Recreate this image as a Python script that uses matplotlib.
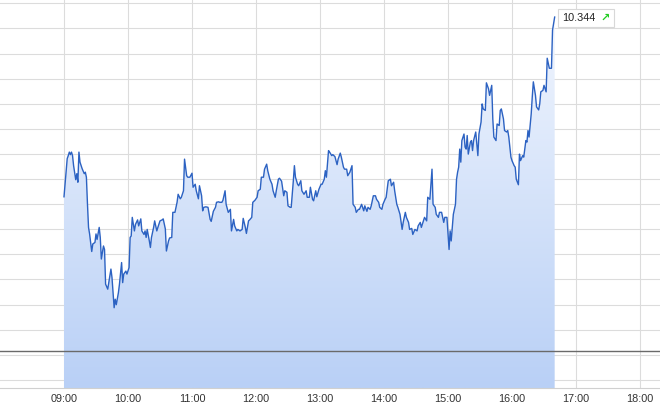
import numpy as np
import matplotlib
matplotlib.use('Agg')
import matplotlib.pyplot as plt
from matplotlib.offsetbox import TextArea, HPacker, AnnotationBbox

# intraday series: minutes after 09:00 and price
minutes = [
    0, 2, 3, 4, 5, 6, 7, 8, 9, 11, 12, 13, 14, 15, 17, 18, 19, 20, 21, 22,
    23, 24, 26, 27, 29, 30, 31, 33, 34, 35, 37, 38, 39, 41, 42, 44, 45, 47, 48, 49,
    51, 52, 54, 55, 56, 58, 59, 61, 62, 63, 64, 66, 67, 69, 70, 72, 73, 75, 76, 77,
    78, 80, 81, 82, 84, 85, 87, 88, 90, 92, 93, 95, 96, 98, 99, 101, 102, 104, 106, 107,
    109, 110, 112, 113, 115, 116, 118, 120, 121, 123, 124, 126, 127, 129, 130, 131, 133, 135, 137, 138,
    140, 142, 143, 145, 146, 148, 149, 151, 152, 154, 156, 157, 159, 160, 162, 163, 165, 167, 168, 170,
    171, 173, 174, 176, 177, 179, 181, 182, 184, 185, 187, 188, 190, 191, 193, 195, 196, 198, 199, 201,
    202, 204, 206, 207, 209, 210, 212, 213, 215, 216, 217, 219, 220, 222, 223, 225, 227, 228, 230, 231,
    233, 234, 236, 237, 239, 241, 242, 244, 245, 246, 248, 249, 251, 252, 254, 256, 257, 259, 260, 262,
    263, 265, 266, 268, 270, 271, 273, 274, 276, 277, 279, 281, 282, 284, 285, 287, 288, 290, 292, 293,
    295, 296, 298, 299, 301, 302, 304, 306, 307, 309, 310, 312, 313, 315, 317, 318, 320, 321, 323, 324,
    326, 327, 329, 331, 332, 334, 335, 337, 338, 340, 341, 343, 345, 346, 348, 349, 351, 352, 354, 356,
    357, 359, 361, 362, 363, 365, 367, 368, 369, 370, 371, 372, 373, 375, 376, 377, 378, 379, 381, 382,
    383, 384, 386, 388, 389, 391, 392, 393, 395, 396, 398, 399, 401, 402, 403, 405, 406, 408, 409, 410,
    412, 413, 415, 416, 417, 419, 420, 422, 423, 424, 426, 427, 428, 430, 431, 433, 434, 435, 436, 438,
    439, 440, 442, 443, 445, 446, 447, 449, 450, 452, 453, 455, 457, 458, 460,
]
price = [
    9.986, 10.038, 10.062, 10.068, 10.075, 10.070, 10.075, 10.068, 10.048, 10.020,
    10.032, 10.015, 10.075, 10.055, 10.042, 10.037, 10.032, 10.035, 10.025, 9.972,
    9.925, 9.912, 9.877, 9.892, 9.895, 9.912, 9.901, 9.925, 9.905, 9.862,
    9.888, 9.881, 9.812, 9.802, 9.815, 9.842, 9.825, 9.765, 9.782, 9.771,
    9.795, 9.812, 9.855, 9.815, 9.832, 9.838, 9.832, 9.845, 9.905, 9.908,
    9.945, 9.918, 9.931, 9.940, 9.928, 9.942, 9.918, 9.911, 9.918, 9.905,
    9.921, 9.898, 9.885, 9.905, 9.925, 9.938, 9.918, 9.925, 9.938, 9.940,
    9.942, 9.922, 9.878, 9.898, 9.904, 9.905, 9.955, 9.955, 9.975, 9.991,
    9.982, 9.985, 9.998, 10.061, 10.028, 10.025, 10.025, 10.033, 10.005, 10.011,
    9.998, 9.982, 10.008, 9.988, 9.958, 9.965, 9.966, 9.965, 9.941, 9.937,
    9.957, 9.965, 9.975, 9.976, 9.975, 9.975, 9.979, 9.998, 9.971, 9.955,
    9.961, 9.918, 9.941, 9.928, 9.918, 9.921, 9.918, 9.921, 9.943, 9.925,
    9.913, 9.938, 9.940, 9.945, 9.975, 9.979, 9.985, 9.998, 10.001, 10.025,
    10.025, 10.041, 10.051, 10.038, 10.021, 10.011, 9.998, 9.985, 9.998, 10.021,
    10.023, 10.017, 9.988, 9.998, 9.995, 9.968, 9.965, 9.965, 10.018, 10.048,
    10.025, 10.011, 10.008, 10.018, 9.998, 9.991, 9.998, 9.985, 9.985, 10.005,
    9.981, 9.978, 9.998, 9.986, 10.001, 10.011, 10.011, 10.021, 10.038, 10.025,
    10.078, 10.075, 10.068, 10.070, 10.066, 10.050, 10.061, 10.073, 10.065, 10.045,
    10.041, 10.041, 10.028, 10.035, 10.048, 9.971, 9.965, 9.955, 9.961, 9.961,
    9.971, 9.958, 9.968, 9.957, 9.965, 9.961, 9.968, 9.988, 9.988, 9.981,
    9.975, 9.965, 9.961, 9.971, 9.981, 9.985, 10.018, 10.021, 10.008, 10.015,
    9.998, 9.971, 9.965, 9.951, 9.921, 9.935, 9.955, 9.945, 9.935, 9.921,
    9.923, 9.911, 9.921, 9.918, 9.928, 9.935, 9.925, 9.938, 9.945, 9.938,
    9.985, 9.981, 10.041, 9.971, 9.965, 9.951, 9.945, 9.955, 9.955, 9.935,
    9.945, 9.945, 9.881, 9.918, 9.898, 9.951, 9.971, 10.021, 10.035, 10.045,
    10.081, 10.055, 10.098, 10.111, 10.085, 10.081, 10.108, 10.071, 10.095, 10.098,
    10.078, 10.098, 10.115, 10.068, 10.111, 10.135, 10.171, 10.161, 10.158, 10.213,
    10.201, 10.188, 10.208, 10.141, 10.105, 10.098, 10.131, 10.128, 10.158, 10.161,
    10.141, 10.118, 10.115, 10.118, 10.105, 10.065, 10.058, 10.048, 10.045, 10.021,
    10.010, 10.071, 10.058, 10.068, 10.065, 10.098, 10.095, 10.118, 10.105, 10.151,
    10.185, 10.215, 10.188, 10.165, 10.159, 10.171, 10.195, 10.198, 10.208, 10.195,
    10.262, 10.242, 10.242, 10.318, 10.344,
]
prev_close = 9.679
hours = list(range(9, 19))
hour_labels = ['%02d:00' % h for h in hours]
grid_levels = [10.3714 - 0.05 * k for k in range(16)]

t = 9 + np.array(minutes) / 60.0
p = np.array(price)

fig = plt.figure(figsize=(6.6, 4.12), dpi=100)
ax = fig.add_axes([0, 24 / 412, 1, 388 / 412])
ax.set_xlim(8.0, 8 + 660 / 64)
ax.set_ylim(10.378 - 388 / 502, 10.378)

for lv in grid_levels:
    ax.axhline(lv, color='#dcdcdc', lw=0.8, zorder=0)
for h in hours:
    ax.axvline(h, color='#dcdcdc', lw=0.8, zorder=0)

# gradient area under the line
poly = ax.fill_between(t, p, ax.get_ylim()[0], color='none', lw=0)
grad = np.linspace(0, 1, 256).reshape(-1, 1)
cmap = matplotlib.colors.LinearSegmentedColormap.from_list('g', ['#f3f7fe', '#b9d0f6'])
img = ax.imshow(grad, cmap=cmap, aspect='auto', origin='upper',
                extent=[t[0], t[-1], ax.get_ylim()[0], ax.get_ylim()[1]], zorder=1)
img.set_clip_path(poly.get_paths()[0], transform=ax.transData)
ax.set_xlim(8.0, 8 + 660 / 64)

ax.axhline(prev_close, color='#6a6a6a', lw=1.0, zorder=3)
ax.plot(t, p, color='#2c62c2', lw=1.0, zorder=4)

# last value label
font = ['Liberation Sans', 'DejaVu Sans']
val = TextArea('%.3f' % p[-1], textprops=dict(fontsize=7.8, family=font, color='#222222'))
arrow = TextArea('\u2197', textprops=dict(fontsize=8, family=['DejaVu Sans'], color='#22cc22',
                                          fontweight='bold'))
box = HPacker(children=[val, arrow], pad=0, sep=4, align='center')
ab = AnnotationBbox(box, (t[-1], p[-1]), xybox=(7, -1), xycoords='data',
                    boxcoords='offset pixels', box_alignment=(0, 0.5), pad=0.3,
                    frameon=True, zorder=6,
                    bboxprops=dict(boxstyle='square,pad=0.3', fc='white', ec='#d8d8d8', lw=0.8))
ax.add_artist(ab)

ax.set_xticks(hours)
ax.set_xticklabels(hour_labels, family=font, fontsize=7.8, color='#333333')
ax.set_yticks([])
ax.tick_params(axis='x', length=0, pad=4)
for s in ['top', 'left', 'right']:
    ax.spines[s].set_visible(False)
ax.spines['bottom'].set_color('#d0d0d0')
ax.spines['bottom'].set_linewidth(0.8)

fig.savefig('out.png', dpi=100)
